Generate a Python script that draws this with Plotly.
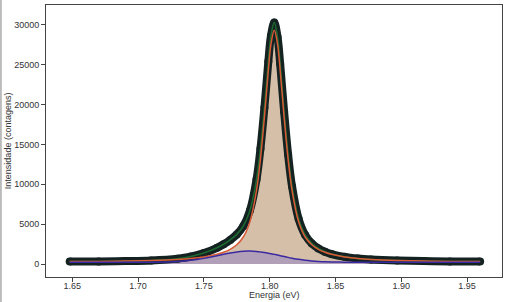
import plotly.graph_objects as go

# Energy grid (eV)
energy = [1.648, 1.67, 1.69, 1.71, 1.73, 1.74, 1.75, 1.76, 1.765, 1.77, 1.775, 1.78,
          1.785, 1.79, 1.793, 1.796, 1.799, 1.801, 1.8035, 1.806, 1.808, 1.811, 1.814,
          1.817, 1.822, 1.827, 1.832, 1.837, 1.842, 1.847, 1.857, 1.867, 1.877, 1.897,
          1.917, 1.937, 1.96]

baseline = 220

# main peak component (incl. baseline)
peak1 = [303, 330, 372, 443, 578, 697, 887, 1213, 1474, 1848, 2417, 3389,
         5302, 9240, 13160, 18380, 24280, 27570, 29320, 27570, 24280, 18380, 13160,
         9240, 5302, 3389, 2417, 1848, 1474, 1213, 887, 697, 578, 443,
         372, 330, 300]

# secondary broad component (incl. baseline)
peak2 = [220, 220, 220, 229, 317, 458, 706, 1046, 1226, 1390, 1520, 1600,
         1619, 1575, 1520, 1447, 1359, 1294, 1208, 1119, 1046, 938, 834,
         736, 593, 477, 390, 327, 284, 257, 231, 222, 220, 220,
         220, 220, 220]

# measured spectrum
counts = [320, 330, 372, 452, 675, 935, 1373, 2039, 2480, 3018, 3717, 4769,
          6701, 10595, 14460, 19607, 25419, 28644, 30308, 28469, 25106, 19098, 13774,
          9756, 5675, 3646, 2587, 1955, 1538, 1250, 898, 699, 578, 443,
          372, 330, 300]

x_ticks = [1.65, 1.70, 1.75, 1.80, 1.85, 1.90, 1.95]
y_ticks = [0, 5000, 10000, 15000, 20000, 25000, 30000]

fit_total = [a + b - baseline for a, b in zip(peak1, peak2)]

fig = go.Figure()

fig.add_trace(go.Scatter(x=energy, y=peak1, mode="lines", line=dict(color="rgba(0,0,0,0)", shape="spline"),
                         fill="tozeroy", fillcolor="rgba(200,170,140,0.75)", hoverinfo="skip"))
fig.add_trace(go.Scatter(x=energy, y=peak2, mode="lines", line=dict(color="rgba(0,0,0,0)", shape="spline"),
                         fill="tozeroy", fillcolor="rgba(130,120,200,0.45)", hoverinfo="skip"))
fig.add_trace(go.Scatter(x=energy, y=counts, mode="lines+markers",
                         line=dict(color="#142222", width=8, shape="spline"),
                         marker=dict(color="#142222", size=8)))
fig.add_trace(go.Scatter(x=energy, y=fit_total, mode="lines",
                         line=dict(color="#1d6a30", width=1.5, shape="spline")))
fig.add_trace(go.Scatter(x=energy, y=peak1, mode="lines",
                         line=dict(color="#d85a36", width=1.5, shape="spline")))
fig.add_trace(go.Scatter(x=energy, y=peak2, mode="lines",
                         line=dict(color="#3a2aa0", width=1.5, shape="spline")))

font_tick = dict(family="Liberation Sans, Arial", size=9, color="#333")
axis_common = dict(showline=True, linecolor="#444", linewidth=1, mirror=True,
                   ticks="outside", ticklen=4, tickcolor="#444", showgrid=False, zeroline=False,
                   automargin=False, tickfont=font_tick)

fig.update_layout(
    width=508, height=302,
    margin=dict(l=46, r=6, t=5, b=25),
    paper_bgcolor="white", plot_bgcolor="white",
    showlegend=False,
    xaxis=dict(range=[1.630, 1.9766], tickvals=x_ticks, tickformat=".2f",
               ticklabelstandoff=-4, **axis_common),
    yaxis=dict(range=[-1630, 32500], tickvals=y_ticks, tickformat="d", **axis_common),
    annotations=[
        dict(text="Energia (eV)", xref="paper", yref="paper", x=0.5, y=-0.068,
             xanchor="center", yanchor="middle", showarrow=False, font=font_tick),
        dict(text="Intensidade (contagens)", xref="paper", yref="paper", x=-0.083, y=0.5,
             xanchor="center", yanchor="middle", textangle=-90, showarrow=False, font=font_tick),
    ],
    shapes=[dict(type="line", xref="paper", yref="paper", x0=-0.099, x1=-0.099, y0=-0.1, y1=1.1,
                 line=dict(color="#bbbbbb", width=2))],
)

fig.write_html("out.html")
